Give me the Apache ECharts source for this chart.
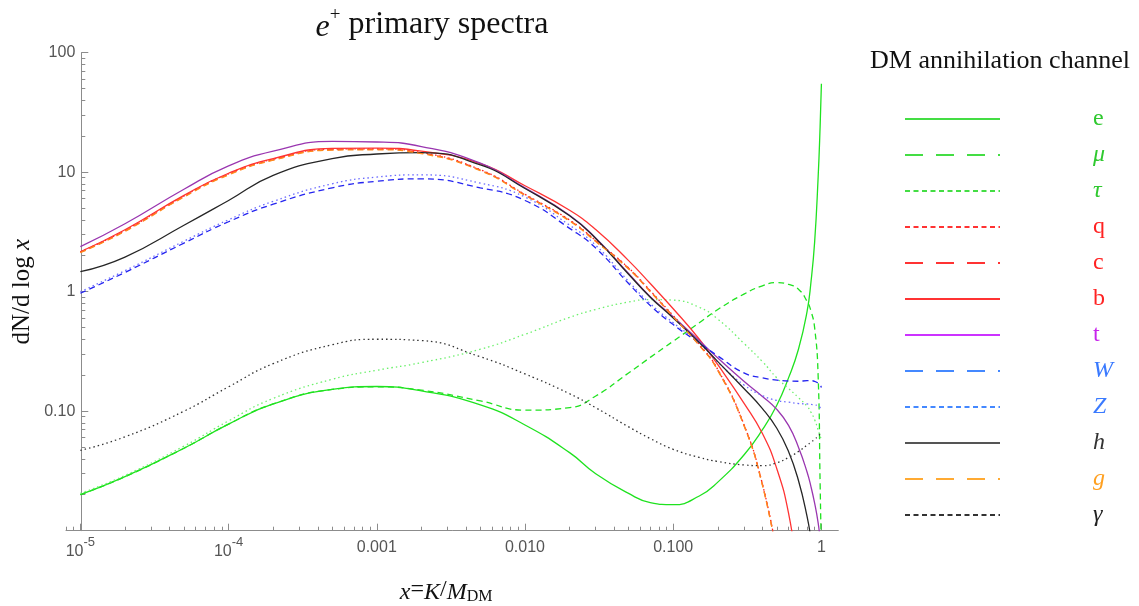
<!DOCTYPE html>
<html>
<head>
<meta charset="utf-8">
<title>e+ primary spectra</title>
<script src="https://cdn.jsdelivr.net/npm/echarts@6/dist/echarts.min.js"></script>
<style>
  html, body { margin: 0; padding: 0; background: #fff; }
  #chart { width: 1139px; height: 606px; }
</style>
</head>
<body>
<div id="chart"></div>
<script>
//****************************** Data ***********************************************************//

// x = K / M_DM sample points
var xValues = [1e-5, 2e-5, 5e-5, 1e-4, 2e-4, 5e-4, 1e-3, 2e-3, 5e-3, 0.01, 0.02, 0.03, 0.05, 0.07,
  0.1, 0.15, 0.2, 0.3, 0.4, 0.5, 0.6, 0.7, 0.8, 0.85, 0.9, 0.95, 0.98, 1.0];

// dN/d log x for each annihilation channel
var chE = [0.020, 0.0283, 0.049, 0.078, 0.115, 0.152, 0.161, 0.148, 0.113, 0.0767, 0.045, 0.030, 0.0205, 0.0172,
  0.0165, 0.0195, 0.0255, 0.043, 0.070, 0.112, 0.19, 0.33, 0.68, 1.2, 2.6, 9, 24, 55];
var chMu = [0.020, 0.0283, 0.049, 0.078, 0.115, 0.152, 0.160, 0.150, 0.122, 0.102, 0.107, 0.134, 0.209, 0.282,
  0.385, 0.55, 0.71, 0.955, 1.12, 1.19, 1.15, 1.05, 0.83, 0.69, 0.50, 0.20, 0.025, 0.006];
var chTau = [0.0205, 0.029, 0.051, 0.083, 0.128, 0.185, 0.22, 0.255, 0.33, 0.44, 0.61, 0.71, 0.82, 0.86,
  0.85, 0.74, 0.59, 0.37, 0.26, 0.19, 0.155, 0.13, 0.11, 0.098, 0.085, 0.07, 0.062, 0.058];
var chQ = [2.16, 3.26, 6.32, 9.7, 12.85, 15.6, 15.7, 14.6, 10.5, 6.53, 3.98, 2.68, 1.58, 1.02,
  0.63, 0.362, 0.223, 0.0775, 0.0245, 0.0065, null, null, null, null, null, null, null, null];
var chC = [2.14, 3.23, 6.26, 9.6, 12.7, 15.45, 15.55, 14.45, 10.4, 6.46, 3.94, 2.66, 1.57, 1.01,
  0.623, 0.358, 0.221, 0.0768, 0.0243, 0.0064, null, null, null, null, null, null, null, null];
var chB = [2.16, 3.3, 6.4, 9.8, 13.0, 15.8, 15.9, 15.0, 11.8, 7.7, 4.8, 3.31, 1.82, 1.17,
  0.72, 0.40, 0.245, 0.117, 0.065, 0.033, 0.014, 0.004, null, null, null, null, null, null];
var chT = [2.38, 3.7, 7.2, 11.3, 15.0, 18.1, 17.9, 16.4, 11.9, 7.4, 4.37, 2.82, 1.42, 0.91,
  0.617, 0.389, 0.279, 0.178, 0.133, 0.1035, 0.076, 0.050, 0.031, 0.0234, 0.017, 0.0117, 0.0085, 0.0063];
var chW = [0.97, 1.45, 2.55, 3.85, 5.4, 7.4, 8.4, 8.8, 7.4, 5.8, 3.39, 2.32, 1.17, 0.767,
  0.531, 0.372, 0.29, 0.209, 0.19, 0.182, 0.179, 0.178, 0.18, 0.18, 0.178, 0.172, 0.166, 0.158];
var chZ = [1.0, 1.5, 2.65, 4.0, 5.7, 8.0, 9.1, 9.5, 8.1, 6.2, 3.6, 2.45, 1.22, 0.794,
  0.55, 0.372, 0.257, 0.166, 0.135, 0.123, 0.119, 0.116, 0.115, 0.114, 0.113, 0.111, 0.107, 0.103];
var chH = [1.47, 1.95, 3.6, 5.8, 9.4, 13.0, 14.2, 14.6, 11.5, 7.3, 4.32, 2.79, 1.40, 0.90,
  0.603, 0.376, 0.260, 0.155, 0.105, 0.072, 0.046, 0.0263, 0.0132, 0.0085, 0.0045, null, null, null];
var chG = [2.12, 3.2, 6.2, 9.5, 12.6, 15.3, 15.4, 14.3, 10.3, 6.4, 3.9, 2.63, 1.55, 1.0,
  0.617, 0.355, 0.219, 0.076, 0.024, 0.0063, null, null, null, null, null, null, null, null];
var chGamma = [0.047, 0.061, 0.10, 0.16, 0.25, 0.36, 0.40, 0.39, 0.285, 0.205, 0.14, 0.107, 0.074, 0.059,
  0.048, 0.041, 0.038, 0.0355, 0.035, 0.037, 0.041, 0.046, 0.052, 0.055, 0.058, 0.062, 0.064, 0.065];

// axis ticks and labels
var xMajorTicks = [1e-5, 1e-4, 1e-3, 1e-2, 1e-1, 1];
var xMajorLabels = ["{b|10}{s|-5}", "{b|10}{s|-4}", "0.001", "0.010", "0.100", "1"];
var yMajorTicks = [0.01, 0.1, 1, 10, 100];
var yMajorLabels = ["", "0.10", "1", "10", "100"];

//****************************** Styles *************************************//

var SERIF = "'Liberation Serif', 'Times New Roman', serif";
var SANS = "'Liberation Sans', Arial, sans-serif";
var AXIS_GRAY = "#8c8c8c";
var X_MIN = 8e-6, X_MAX = 1.3;
var Y_MIN = 0.01, Y_MAX = 100;

var DASH = [6, 4];
var DOT = [1.5, 3];
var L_DASH = [18, 13];
var L_DOT = [5, 3.5];

// name, values, plot colour, plot dash, legend colour, legend dash, label colour, italic label
var channels = [
  ["e", chE, "#1fe21f", "solid", "#44dd44", "solid", "#2fc92f", false],
  ["\u03bc", chMu, "#1fe21f", DASH, "#44dd44", L_DASH, "#2fc92f", true],
  ["\u03c4", chTau, "#6cf06c", DOT, "#44dd44", L_DOT, "#2fc92f", true],
  ["q", chQ, "#ff2020", DOT, "#ff3333", L_DOT, "#ff2222", false],
  ["c", chC, "#ff3030", DASH, "#ff3333", L_DASH, "#ff2222", false],
  ["b", chB, "#ff3333", "solid", "#ff3333", "solid", "#ff2222", false],
  ["t", chT, "#9a36b0", "solid", "#cc33ff", "solid", "#c824ec", false],
  ["W", chW, "#2424f0", DASH, "#4488ff", L_DASH, "#3a7aff", true],
  ["Z", chZ, "#6a6aff", DOT, "#4488ff", L_DOT, "#3a7aff", true],
  ["h", chH, "#262626", "solid", "#555555", "solid", "#333333", true],
  ["g", chG, "#ff8c1a", DASH, "#ffaa33", L_DASH, "#ffa020", true],
  ["\u03b3", chGamma, "#333333", DOT, "#333333", L_DOT, "#222222", true],
];

//****************************** Helpers *************************************//

function toPairs(ys) {
  var out = [];
  for (var i = 0; i < xValues.length; i++) {
    if (ys[i] != null) out.push([xValues[i], ys[i]]);
  }
  return out;
}

function minorTicks(lo, hi) {
  var ticks = [];
  for (var p = -7; p <= 2; p++) {
    for (var k = 2; k <= 9; k++) {
      var v = k * Math.pow(10, p);
      if (v >= lo * 0.999 && v <= hi * 1.001) ticks.push(v);
    }
  }
  return ticks;
}

function nearestIndex(list, v) {
  var best = 0, bestD = Infinity;
  list.forEach(function (t, i) {
    var d = Math.abs(Math.log10(t) - Math.log10(v));
    if (d < bestD) { bestD = d; best = i; }
  });
  return best;
}

//****************************** Chart *************************************//

var dom = document.getElementById("chart");
var myChart = echarts.init(dom, null, { renderer: "canvas" });

var series = channels.map(function (ch) {
  return {
    name: ch[0],
    type: "line",
    data: toPairs(ch[1]),
    xAxisIndex: 0,
    yAxisIndex: 0,
    smooth: 0.5,
    symbol: "none",
    showSymbol: false,
    clip: true,
    color: ch[2],
    lineStyle: { color: ch[2], width: 1.3, type: ch[3] },
    emphasis: { disabled: true },
  };
});

var legendData = channels.map(function (ch) {
  return {
    name: ch[0],
    textStyle: { color: ch[6] },
    lineStyle: { color: ch[4], type: ch[5], width: 2 },
  };
});

var italicNames = channels.filter(function (ch) { return ch[7]; }).map(function (ch) { return ch[0]; });

var axisLineStyle = { color: AXIS_GRAY, width: 1 };

var option = {
  backgroundColor: "#ffffff",
  animation: false,
  title: [
    {
      text: "{i|e}{sup|+} primary spectra",
      left: 432,
      top: 6,
      padding: 0,
      textAlign: "center",
      textStyle: {
        fontFamily: SERIF, fontSize: 32, fontWeight: "normal", color: "#111", lineHeight: 38,
        rich: {
          i: { fontFamily: SERIF, fontSize: 32, fontStyle: "italic", color: "#111", lineHeight: 38, verticalAlign: "bottom" },
          sup: { fontFamily: SERIF, fontSize: 19, color: "#111", lineHeight: 24, verticalAlign: "top" },
        },
      },
    },
    {
      text: "DM annihilation channel",
      left: 870,
      top: 48,
      padding: 0,
      textStyle: { fontFamily: SERIF, fontSize: 26, fontWeight: "normal", color: "#111", lineHeight: 26 },
    },
  ],
  legend: {
    orient: "vertical",
    left: 904,
    top: 107,
    padding: 0,
    itemWidth: 95,
    itemHeight: 14,
    itemGap: 12,
    selectedMode: false,
    itemStyle: { opacity: 0 },
    data: legendData,
    formatter: function (name) {
      return italicNames.indexOf(name) >= 0 ? "{i|" + name + "}" : name;
    },
    textStyle: {
      fontFamily: SERIF, fontSize: 24, lineHeight: 24, padding: [0, 0, 0, 88],
      rich: { i: { fontFamily: SERIF, fontSize: 24, fontStyle: "italic", lineHeight: 24 } },
    },
  },
  grid: { left: 66, right: 300.7, top: 52.7, bottom: 75.3, containLabel: false, outerBoundsMode: "none" },
  xAxis: [
    {
      type: "log",
      logBase: 10,
      min: X_MIN,
      max: X_MAX,
      position: "bottom",
      axisLine: { show: true, onZero: false, lineStyle: axisLineStyle },
      axisTick: { show: true, inside: true, length: 7, customValues: xMajorTicks, lineStyle: axisLineStyle },
      axisLabel: {
        show: true,
        customValues: xMajorTicks,
        margin: 5,
        color: "#555",
        fontFamily: SANS,
        fontSize: 16,
        lineHeight: 24,
        formatter: function (v) { return xMajorLabels[nearestIndex(xMajorTicks, v)]; },
        rich: {
          b: { fontFamily: SANS, fontSize: 16, color: "#555", lineHeight: 24, verticalAlign: "bottom" },
          s: { fontFamily: SANS, fontSize: 13, color: "#555", lineHeight: 14, verticalAlign: "top" },
        },
      },
      splitLine: { show: false },
      minorTick: { show: false },
      name: "{i|x}={i|K}/{i|M}{sub|DM}",
      nameLocation: "middle",
      nameGap: 44,
      nameMoveOverlap: false,
      nameTextStyle: {
        fontFamily: SERIF, fontSize: 24, color: "#111", lineHeight: 30, padding: [0, 12, 0, 0],
        rich: {
          i: { fontFamily: SERIF, fontSize: 24, fontStyle: "italic", color: "#111", lineHeight: 30, verticalAlign: "bottom" },
          sub: { fontFamily: SERIF, fontSize: 16, color: "#111", lineHeight: 14, verticalAlign: "bottom" },
        },
      },
    },
    {
      type: "log",
      logBase: 10,
      min: X_MIN,
      max: X_MAX,
      position: "bottom",
      axisLine: { show: false },
      axisTick: { show: true, inside: true, length: 4, customValues: minorTicks(X_MIN, 1), lineStyle: axisLineStyle },
      axisLabel: { show: false },
      splitLine: { show: false },
    },
  ],
  yAxis: [
    {
      type: "log",
      logBase: 10,
      min: Y_MIN,
      max: Y_MAX,
      position: "left",
      offset: -15.3,
      axisLine: { show: true, onZero: false, lineStyle: axisLineStyle },
      axisTick: { show: true, inside: true, length: 7, customValues: yMajorTicks, lineStyle: axisLineStyle },
      axisLabel: {
        show: true,
        customValues: yMajorTicks,
        margin: 6,
        color: "#555",
        fontFamily: SANS,
        fontSize: 16,
        formatter: function (v) { return yMajorLabels[nearestIndex(yMajorTicks, v)]; },
      },
      splitLine: { show: false },
      minorTick: { show: false },
      name: "dN/d log {i|x}",
      nameLocation: "middle",
      nameGap: 46,
      nameMoveOverlap: false,
      nameTextStyle: {
        fontFamily: SERIF, fontSize: 25, color: "#111", lineHeight: 25,
        rich: { i: { fontFamily: SERIF, fontSize: 25, fontStyle: "italic", color: "#111", lineHeight: 25 } },
      },
    },
    {
      type: "log",
      logBase: 10,
      min: Y_MIN,
      max: Y_MAX,
      position: "left",
      offset: -15.3,
      axisLine: { show: false },
      axisTick: { show: true, inside: true, length: 4, customValues: minorTicks(Y_MIN, Y_MAX), lineStyle: axisLineStyle },
      axisLabel: { show: false },
      splitLine: { show: false },
    },
  ],
  series: series,
};

myChart.setOption(option);
window.addEventListener("resize", myChart.resize);
</script>
</body>
</html>
